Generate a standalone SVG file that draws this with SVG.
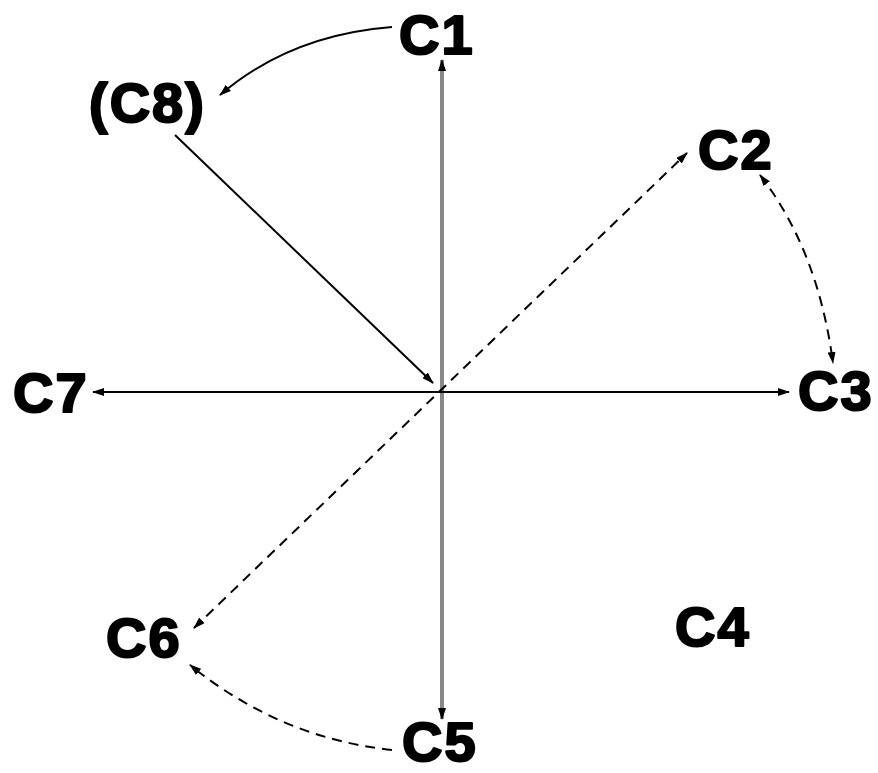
<svg xmlns="http://www.w3.org/2000/svg" width="878" height="773" viewBox="0 0 878 773">
<style>
.lbl{font-family:"Liberation Sans",Arial,sans-serif;font-weight:bold;font-size:56px;fill:#000;stroke:#000;stroke-width:2.2px;stroke-linejoin:round;letter-spacing:2px}
.ln{fill:none;stroke:#000;stroke-width:2}
.dash{stroke-dasharray:10 7}
.gray{fill:none;stroke:#888;stroke-width:4}
</style>
<defs>
<marker id="ah" markerUnits="userSpaceOnUse" markerWidth="12" markerHeight="8" refX="11" refY="4" orient="auto-start-reverse">
<path d="M0,0 L12,4 L0,8 z" fill="#000"/>
</marker>
</defs>
<rect width="878" height="773" fill="#fff"/>
<g id="connectors">
<path class="gray" d="M442,60 L442,719" marker-start="url(#ah)" marker-end="url(#ah)"/>
<path class="ln" d="M93,392 L789,392" marker-start="url(#ah)" marker-end="url(#ah)"/>
<path class="ln dash" d="M194,628 L687,153" marker-start="url(#ah)" marker-end="url(#ah)"/>
<path class="ln" d="M175,135 L433,383" marker-end="url(#ah)"/>
<path class="ln" d="M392,27 Q290,35 220,95" marker-end="url(#ah)"/>
<path class="ln dash" d="M760,175 Q818,250 833,363" marker-start="url(#ah)" marker-end="url(#ah)"/>
<path class="ln dash" d="M392,750 Q280,738 190,665" marker-end="url(#ah)"/>
</g>
<g id="C1"><text class="lbl" x="399" y="54">C1</text></g>
<g id="C8"><text class="lbl" x="89" y="122" letter-spacing="4">(C8)</text></g>
<g id="C2"><text class="lbl" x="698" y="169">C2</text></g>
<g id="C3"><text class="lbl" x="798" y="410">C3</text></g>
<g id="C7"><text class="lbl" x="13" y="412">C7</text></g>
<g id="C6"><text class="lbl" x="106" y="657">C6</text></g>
<g id="C5"><text class="lbl" x="402" y="761">C5</text></g>
<g id="C4"><text class="lbl" x="675" y="646">C4</text></g>
</svg>
